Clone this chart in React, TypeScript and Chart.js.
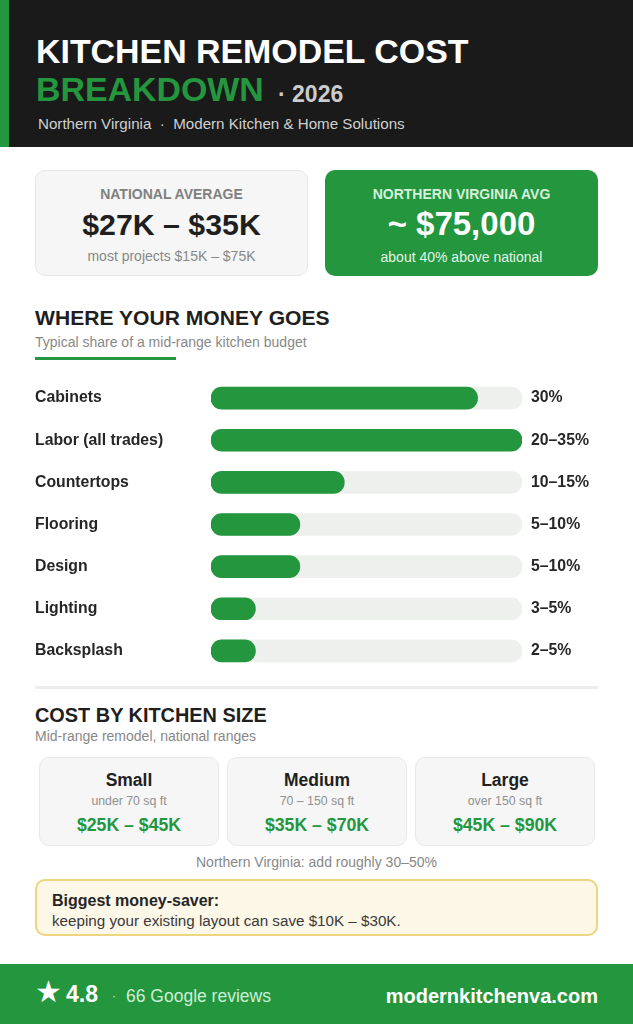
import React, { useEffect, useRef } from "react";
import { Chart, registerables } from "chart.js";

Chart.register(...registerables);

const GREEN = "#23963e";
const FONT = '"Liberation Sans", Arial, sans-serif';

const categories = ["Cabinets", "Labor (all trades)", "Countertops", "Flooring", "Design", "Lighting", "Backsplash"];
const shareLabels = ["30%", "20–35%", "10–15%", "5–10%", "5–10%", "3–5%", "2–5%"];
// upper end of each range, the axis stops at the largest one
const shareValues = [30, 35, 15, 10, 10, 5, 5];
const trackValues = [35, 35, 35, 35, 35, 35, 35];

const sizeNames = ["Small", "Medium", "Large"];
const sizeAreas = ["under 70 sq ft", "70 – 150 sq ft", "over 150 sq ft"];
const sizeCosts = ["$25K – $45K", "$35K – $70K", "$45K – $90K"];
const sizeLefts = [39, 227, 415];

// one line of text placed by the centre of its line box
const Txt = ({ x, y, w, size, color, bold, center, children, style }: any) => (
  <div
    style={{
      position: "absolute",
      left: x,
      top: y - 20,
      width: w,
      height: 40,
      lineHeight: "40px",
      fontSize: size,
      color,
      fontWeight: bold ? 700 : 400,
      textAlign: center ? "center" : "left",
      whiteSpace: "nowrap",
      ...style,
    }}
  >
    {children}
  </div>
);

const Box = ({ x, y, w, h, bg, border, radius, style }: any) => (
  <div
    style={{
      position: "absolute",
      left: x,
      top: y,
      width: w,
      height: h,
      boxSizing: "border-box",
      background: bg,
      border: border ? `1px solid ${border}` : "none",
      borderRadius: radius || 0,
      ...style,
    }}
  />
);

// fixed axis width, and no room kept above and below for the tick labels
const fitAxis = (width: number) => (axis: any) => {
  axis.width = width;
  axis.paddingTop = 0;
  axis.paddingBottom = 0;
};

const ShareChart = () => {
  const chartRef = useRef<HTMLCanvasElement | null>(null);

  useEffect(() => {
    const ctx = chartRef.current?.getContext("2d");
    if (!ctx) return;
    const chart = new Chart(ctx, {
      type: "bar",
      data: {
        labels: categories,
        datasets: [
          {
            data: shareValues,
            backgroundColor: GREEN,
            barThickness: 22,
            borderRadius: 11,
            borderSkipped: false,
            grouped: false,
            order: 1,
          },
          {
            data: trackValues,
            backgroundColor: "#eef0ee",
            barThickness: 22,
            borderRadius: 11,
            borderSkipped: false,
            grouped: false,
            order: 2,
          },
        ],
      },
      options: {
        indexAxis: "y",
        responsive: false,
        animation: false,
        layout: { padding: 0, autoPadding: false },
        plugins: { legend: { display: false }, tooltip: { enabled: false } },
        scales: {
          x: { display: false, min: 0, max: 35 },
          y: {
            position: "left",
            grid: { display: false, drawTicks: false },
            border: { display: false },
            afterFit: fitAxis(176),
            ticks: {
              crossAlign: "far",
              padding: 0,
              color: "#262626",
              font: { family: FONT, size: 15.8, weight: "bold" },
            },
          },
          yRight: {
            type: "category",
            position: "right",
            labels: shareLabels,
            grid: { display: false, drawTicks: false },
            border: { display: false },
            afterFit: fitAxis(76),
            ticks: {
              padding: 9,
              autoSkip: false,
              color: "#262626",
              font: { family: FONT, size: 15.8, weight: "bold" },
            },
          },
        },
      },
    } as any);
    return () => chart.destroy();
  }, []);

  return (
    <canvas
      ref={chartRef}
      width={563}
      height={295}
      style={{ position: "absolute", left: 35, top: 377, width: 563, height: 295 }}
    />
  );
};

export default function App() {
  return (
    <div
      style={{
        position: "absolute",
        left: 0,
        top: 0,
        width: 633,
        height: 1024,
        overflow: "hidden",
        background: "#ffffff",
        fontFamily: FONT,
      }}
    >
      <Box x={0} y={0} w={633} h={147} bg="#1a1a1a" />
      <Box x={0} y={0} w={9} h={147} bg={GREEN} />
      <Txt x={36} y={51} size={33.9} color="#ffffff" bold>KITCHEN REMODEL COST</Txt>
      <Txt x={36} y={89} size={33.9} color={GREEN} bold>BREAKDOWN</Txt>
      <Txt x={278} y={94} size={23} color="#cccccc" bold>· 2026</Txt>
      <Txt x={38} y={124} size={15.15} color="#d0d0d0">Northern Virginia&nbsp; ·&nbsp; Modern Kitchen &amp; Home Solutions</Txt>

      <Box x={35} y={170} w={273} h={106} bg="#f5f6f5" border="#e6e8e6" radius={10} />
      <Txt x={35} y={194} w={273} size={14} color="#808080" bold center>NATIONAL AVERAGE</Txt>
      <Txt x={35} y={225} w={273} size={30.3} color="#1f1f1f" bold center>$27K – $35K</Txt>
      <Txt x={35} y={256} w={273} size={14} color="#888888" center>most projects $15K – $75K</Txt>

      <Box x={325} y={170} w={273} h={106} bg={GREEN} radius={10} />
      <Txt x={325} y={194} w={273} size={14} color="#d6f0dc" bold center>NORTHERN VIRGINIA AVG</Txt>
      <Txt x={325} y={224} w={273} size={33} color="#ffffff" bold center>~ $75,000</Txt>
      <Txt x={325} y={257} w={273} size={14} color="#e2f4e6" center>about 40% above national</Txt>

      <Txt x={35} y={318} size={21.1} color="#1f1f1f" bold>WHERE YOUR MONEY GOES</Txt>
      <Txt x={35} y={342} size={14} color="#888888">Typical share of a mid-range kitchen budget</Txt>
      <Box x={35} y={357} w={141} h={3} bg={GREEN} />

      <ShareChart />

      <Box x={35} y={686} w={563} h={3} bg="#eceeec" />
      <Txt x={35} y={715} size={19.9} color="#1f1f1f" bold>COST BY KITCHEN SIZE</Txt>
      <Txt x={35} y={736} size={14} color="#888888">Mid-range remodel, national ranges</Txt>

      {sizeNames.map((name, i) => (
        <React.Fragment key={name}>
          <Box x={sizeLefts[i]} y={757} w={180} h={89} bg="#f5f6f5" border="#e8eae8" radius={10} />
          <Txt x={sizeLefts[i]} y={780} w={180} size={17.5} color="#1f1f1f" bold center>{name}</Txt>
          <Txt x={sizeLefts[i]} y={801} w={180} size={12.3} color="#909090" center>{sizeAreas[i]}</Txt>
          <Txt x={sizeLefts[i]} y={825} w={180} size={17.7} color={GREEN} bold center>{sizeCosts[i]}</Txt>
        </React.Fragment>
      ))}

      <Txt x={35} y={862} w={563} size={14} color="#888888" center>Northern Virginia: add roughly 30–50%</Txt>

      <Box x={35} y={879} w={563} h={57} bg="#fdf7e7" radius={10} style={{ border: "2px solid #ecd57e" }} />
      <Txt x={52} y={901} size={16} color="#262626" bold>Biggest money-saver:</Txt>
      <Txt x={52} y={921} size={15.2} color="#3a3a3a">keeping your existing layout can save $10K – $30K.</Txt>

      <Box x={0} y={964} w={633} h={60} bg={GREEN} />
      <Txt x={35} y={992} size={30} color="#ffffff" style={{ fontFamily: '"DejaVu Sans"' }}>★</Txt>
      <Txt x={66} y={994} size={23} color="#ffffff" bold>4.8</Txt>
      <Txt x={112} y={996} size={12} color="#cdeed6">·</Txt>
      <Txt x={126} y={996} size={17.5} color="#cdeed6">66 Google reviews</Txt>
      <Txt x={298} y={996} w={300} size={20} color="#ffffff" bold style={{ textAlign: "right" }}>modernkitchenva.com</Txt>
    </div>
  );
}
